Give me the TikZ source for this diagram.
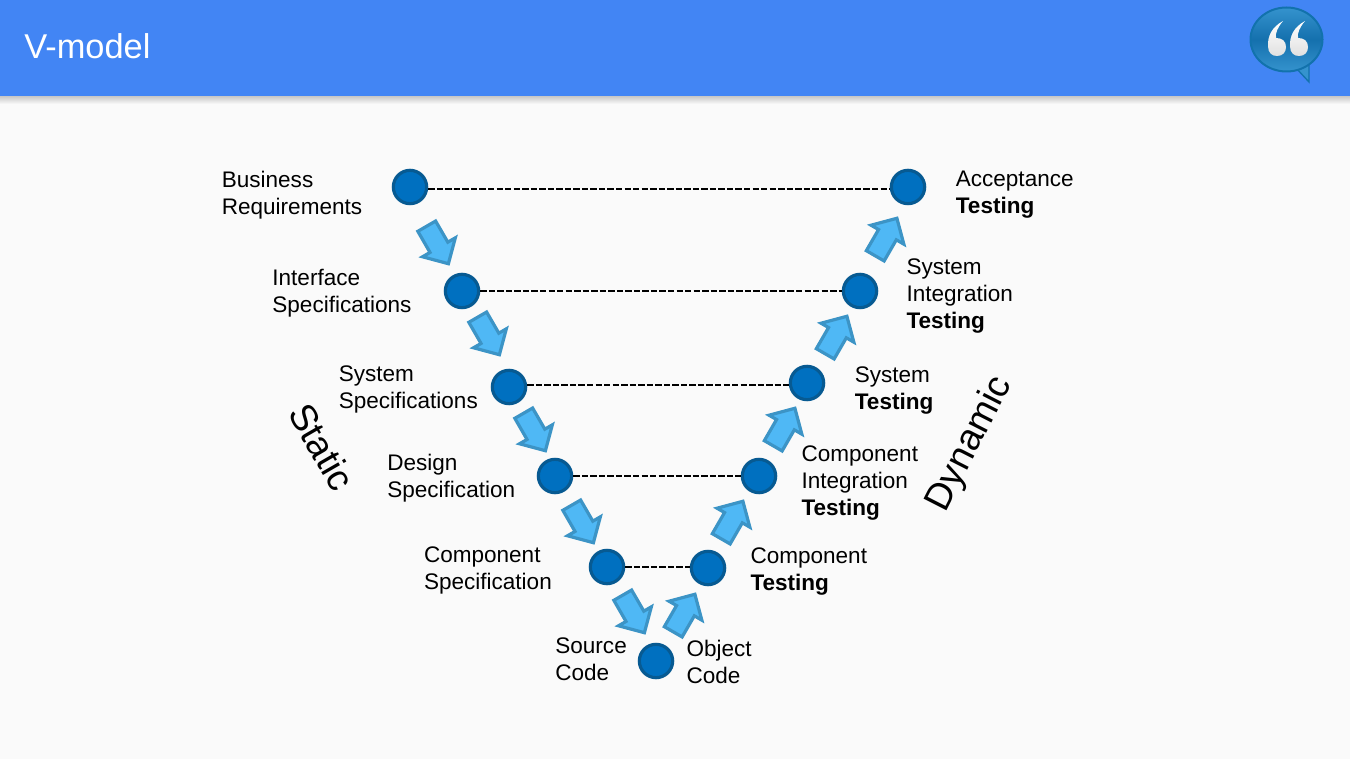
\documentclass[tikz,border=0pt]{standalone}
\usepackage{fontspec}
\setmainfont{Liberation Sans}
\usetikzlibrary{arrows.meta, shapes.arrows, positioning, calc}
\definecolor{headerblue}{HTML}{4285F4}
\definecolor{pagegrey}{HTML}{FAFAFA}
\definecolor{stagefill}{HTML}{0070C0}
\definecolor{stageline}{HTML}{075A92}
\definecolor{flowfill}{HTML}{4FB8F5}
\definecolor{flowline}{HTML}{3C94C6}
\definecolor{bubbledark}{HTML}{1272AC}
\definecolor{bubblelight}{HTML}{3593CE}
\definecolor{bubblemid}{HTML}{1470AE}

\begin{document}
\begin{tikzpicture}[
    x=0.75pt, y=-0.75pt,
    stage/.style={circle, draw=stageline, fill=stagefill, line width=2.4pt,
                  minimum size=25pt, inner sep=0pt},
    flow/.style={single arrow, draw=flowline, fill=flowfill, line width=2.4pt,
                 minimum height=32.5pt, minimum width=27pt, inner xsep=0pt, inner ysep=6.5pt,
                 single arrow head extend=6.5pt, single arrow head indent=0pt},
    step label/.style={align=left, inner sep=0pt,
                 font=\fontsize{16.9}{20.25}\selectfont},
    side label/.style={inner sep=0pt, font=\fontsize{28}{32}\selectfont},
    link/.style={line width=1.8pt, dash pattern=on 4.8pt off 1.6pt}
]
    % page and header
    \fill[pagegrey] (0,0) rectangle (1350,759);
    \shade[top color=black!22, bottom color=pagegrey] (0,96) rectangle (1350,104);
    \fill[headerblue] (0,0) rectangle (1350,96);
    \node[anchor=west, inner sep=0pt, text=white, font=\fontsize{25.8}{30}\selectfont]
      (title) at (24,46) {V-model};

    % logo
    \filldraw[fill=bubblelight, draw=bubbledark, line width=1pt]
      (1296,68) -- (1309,82) -- (1309,64) -- cycle;
    \shade[top color=bubblelight, bottom color=bubblelight, middle color=bubblemid,
           draw=bubbledark, line width=1.5pt]
      (1286.5,39.5) ellipse [x radius=36, y radius=32];
    \foreach \cx in {1277,1299} {
      \shade[top color=white, bottom color=black!12]
        (\cx+6,21) .. controls (\cx-5,27) and (\cx-9.5,36) .. (\cx-9,46)
        .. controls (\cx-9,53) and (\cx-5,56) .. (\cx,56)
        .. controls (\cx+6,56) and (\cx+9,52) .. (\cx+9,47)
        .. controls (\cx+9,41) and (\cx+5,38) .. (\cx-1,38)
        .. controls (\cx-2,33) and (\cx+1,27) .. (\cx+6,21) -- cycle;
    }

    % left leg
    \node[stage] (business) at (410,187) {};
    \node[stage] (interface) at (462,291) {};
    \node[stage] (system) at (509,387) {};
    \node[stage] (design) at (555,476) {};
    \node[stage] (component) at (607,567) {};
    \node[stage] (source) at (656,661) {};
    % right leg
    \node[stage] (object) at (708,568) {};
    \node[stage] (integration) at (759,476) {};
    \node[stage] (systest) at (807,383) {};
    \node[stage] (sysint) at (860,291) {};
    \node[stage] (acceptance) at (908,187) {};

    \draw[link] (business.east |- 0,189) -- (acceptance.west |- 0,189);
    \draw[link] (interface.east) -- (sysint.west);
    \draw[link] (system.east |- 0,385) -- (systest.west |- 0,385);
    \draw[link] (design.east) -- (integration.west);
    \draw[link] (component.east) -- (object.west |- component.east);

    % block arrows
    \node[flow, rotate=-60] (down1) at (435,240.5) {};
    \node[flow, rotate=-60] (down2) at (486,331.5) {};
    \node[flow, rotate=-60] (down3) at (532,427.5) {};
    \node[flow, rotate=-60] (down4) at (580,519.5) {};
    \node[flow, rotate=-60] (down5) at (631,609.5) {};
    \node[flow, rotate=60] (up1) at (681.5,617.5) {};
    \node[flow, rotate=60] (up2) at (729.5,524.5) {};
    \node[flow, rotate=60] (up3) at (781.5,431.5) {};
    \node[flow, rotate=60] (up4) at (833.5,339.5) {};
    \node[flow, rotate=60] (up5) at (883.5,241.5) {};

    % labels
    \node[step label, left=22pt of business, yshift=-6pt] (businesstext) {Business\\Requirements};
    \node[step label, left=24pt of interface, yshift=-2pt] (interfacetext) {Interface\\Specifications};
    \node[step label, left=9.5pt of system, yshift=-1.5pt] (systemtext) {System\\Specifications};
    \node[step label, left=16pt of design, yshift=-1.5pt] (designtext) {Design\\Specification};
    \node[step label, left=27.5pt of component, yshift=-2.5pt] (componenttext) {Component\\Specification};
    \node[step label, left=8pt of source, yshift=1.5pt] (sourcetext) {Source\\Code};
    \node[step label, right=9pt of source, yshift=-0.5pt] (objecttext) {Object\\Code};
    \node[step label, right=18pt of object, yshift=-2.5pt] (componenttest) {Component\\\textbf{Testing}};
    \node[step label, right=18pt of integration, yshift=-5.5pt] (integrationtest) {Component\\Integration\\\textbf{Testing}};
    \node[step label, right=22pt of systest, yshift=-6pt] (systemtest) {System\\\textbf{Testing}};
    \node[step label, right=21pt of sysint, yshift=-3.5pt] (sysinttest) {System\\Integration\\\textbf{Testing}};
    \node[step label, right=22pt of acceptance, yshift=-5.5pt] (acceptancetest) {Acceptance\\\textbf{Testing}};

    \node[side label, rotate=-60] (static) at (322,447) {Static};
    \node[side label, rotate=63] (dynamic) at (970,444) {Dynamic};
\end{tikzpicture}
\end{document}
